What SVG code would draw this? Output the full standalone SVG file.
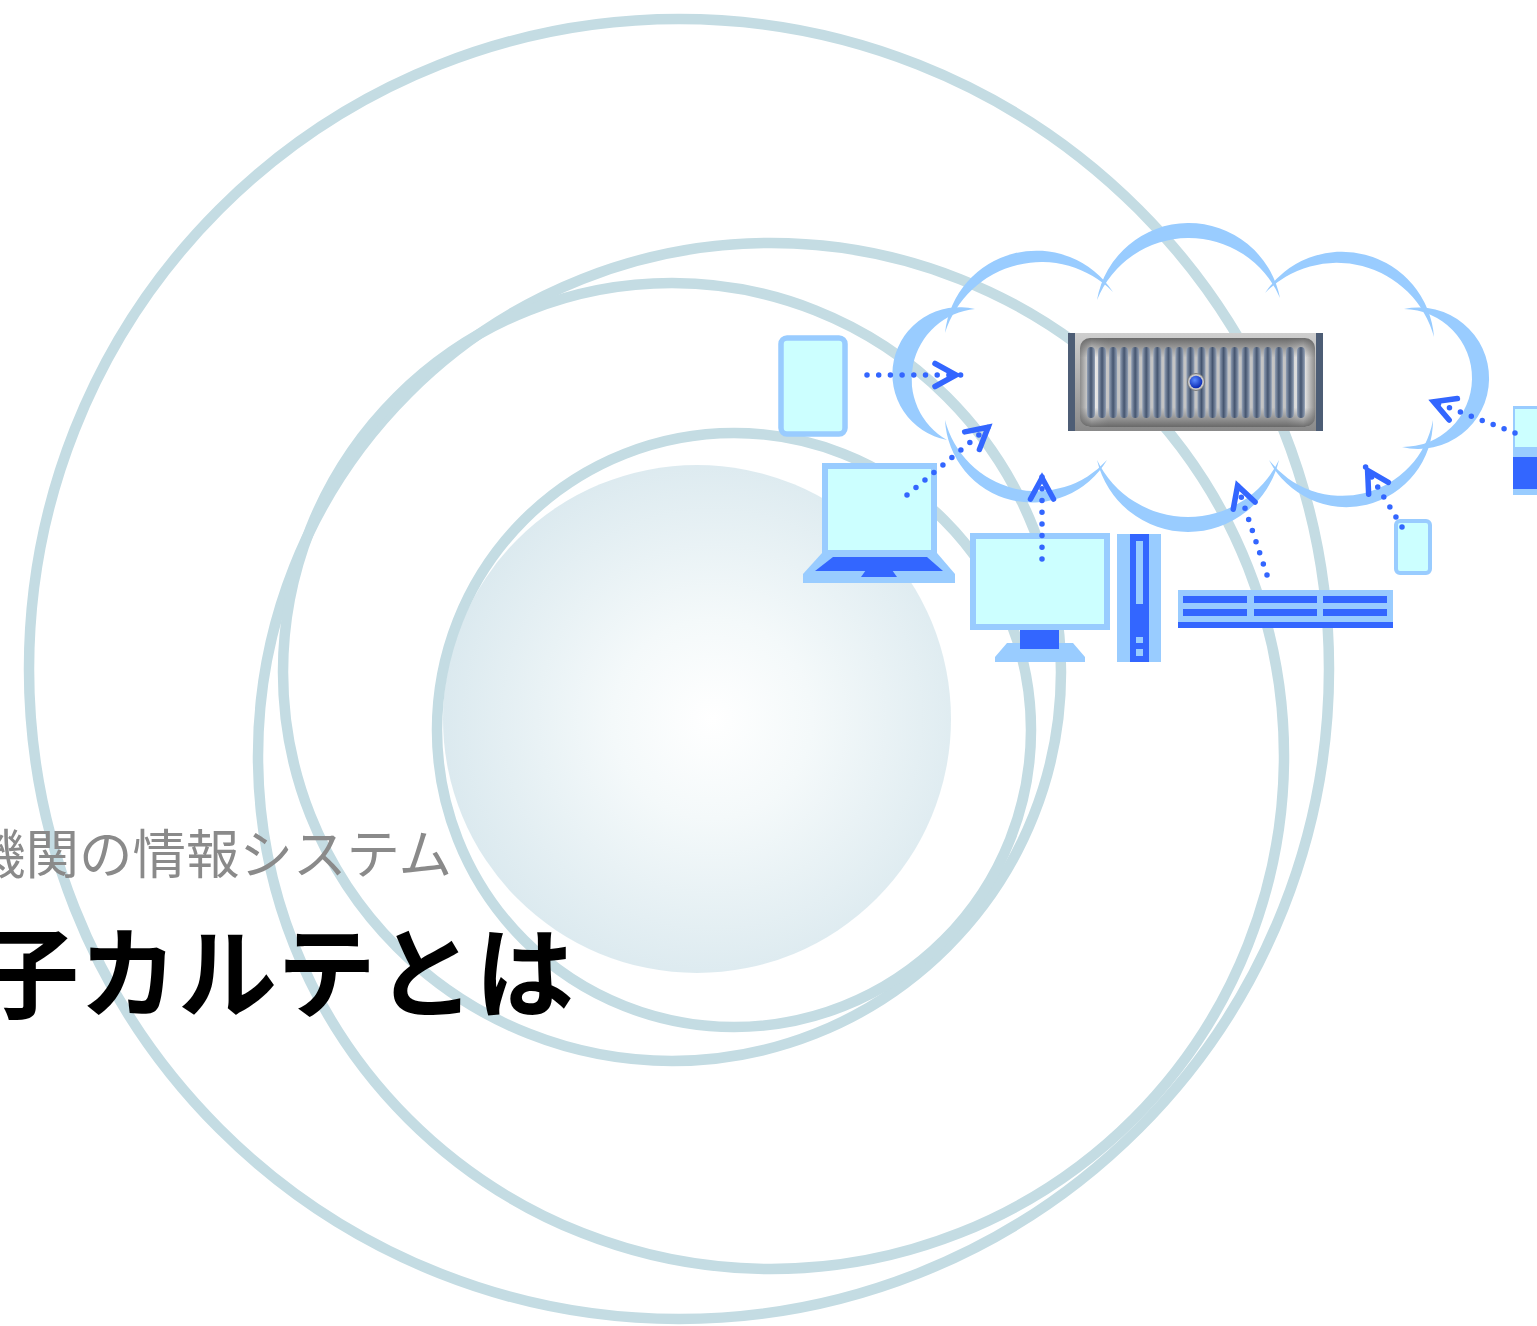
<svg xmlns="http://www.w3.org/2000/svg" xmlns:xlink="http://www.w3.org/1999/xlink" width="1537" height="1326" viewBox="0 0 1537 1326">
  <defs>
    <style>
      .ring { fill: none; stroke: #c4dce3; stroke-width: 10.5; }
      .lobe { fill: #99ccff; }
      .frame { fill: #ccffff; stroke: #99ccff; }
      .light { fill: #99ccff; }
      .dark { fill: #3366ff; }
      .link { fill: none; stroke: #3366ff; stroke-width: 5.5; stroke-linecap: round; stroke-dasharray: 0 11.7; marker-end: url(#chev); }
      .sub { font-family: "Noto Sans CJK JP", "Noto Sans", sans-serif; font-size: 53.5px; fill: #8a8a8a; }
      .title { font-family: "Noto Sans CJK JP", "Noto Sans", sans-serif; font-size: 99px; font-weight: 700; fill: #000000; }
    </style>
    <radialGradient id="coreGrad" cx="0.53" cy="0.5" r="0.56">
      <stop offset="0" stop-color="#ffffff"/>
      <stop offset="0.35" stop-color="#f4f9fa"/>
      <stop offset="1" stop-color="#d9e8ee"/>
    </radialGradient>
    <linearGradient id="caseGrad" x1="0" y1="0" x2="0" y2="1">
      <stop offset="0" stop-color="#cfcfcf"/>
      <stop offset="1" stop-color="#8a8a8a"/>
    </linearGradient>
    <linearGradient id="panelH" x1="0" y1="0" x2="1" y2="0">
      <stop offset="0" stop-color="#8c8c8c"/>
      <stop offset="0.05" stop-color="#f2f2f2"/>
      <stop offset="0.12" stop-color="#c4c4c4"/>
      <stop offset="0.88" stop-color="#c4c4c4"/>
      <stop offset="0.95" stop-color="#f2f2f2"/>
      <stop offset="1" stop-color="#8c8c8c"/>
    </linearGradient>
    <linearGradient id="panelV" x1="0" y1="0" x2="0" y2="1">
      <stop offset="0" stop-color="#5e5e5e" stop-opacity="0.9"/>
      <stop offset="0.22" stop-color="#6e6e6e" stop-opacity="0"/>
      <stop offset="0.78" stop-color="#6e6e6e" stop-opacity="0"/>
      <stop offset="1" stop-color="#5e5e5e" stop-opacity="0.9"/>
    </linearGradient>
    <linearGradient id="ribGrad" x1="0" y1="0" x2="1" y2="0">
      <stop offset="0" stop-color="#93a1b6"/>
      <stop offset="0.5" stop-color="#45556f"/>
      <stop offset="1" stop-color="#93a1b6"/>
    </linearGradient>
    <radialGradient id="ledGrad" cx="0.4" cy="0.35" r="0.6">
      <stop offset="0" stop-color="#5b8cff"/>
      <stop offset="1" stop-color="#0f2fb8"/>
    </radialGradient>
    <rect id="rib" x="0" y="347" width="8" height="71" rx="4" fill="url(#ribGrad)"/>
    <marker id="chev" viewBox="-30 -16 34 32" refX="0" refY="0" markerWidth="34" markerHeight="32" markerUnits="userSpaceOnUse" orient="auto">
      <path d="M-26,-11.5 L-5,0 L-26,11.5" fill="none" stroke="#3366ff" stroke-width="5.5" stroke-linecap="round" stroke-dasharray="none"/>
    </marker>
  </defs>

  <rect width="1537" height="1326" fill="#ffffff"/>

  <!-- background rings and soft core -->
  <g id="rings">
    <circle cx="697" cy="719" r="254" fill="url(#coreGrad)"/>
    <circle class="ring" cx="679" cy="669" r="650"/>
    <circle class="ring" cx="771" cy="756" r="513"/>
    <circle class="ring" cx="672" cy="672" r="389"/>
    <circle class="ring" cx="734" cy="730" r="297"/>
  </g>

  <!-- cloud outline built from crescent lobes -->
  <g id="cloud">
    <path class="lobe" d="M945,333 A91.8,91.8 0 0 1 1113,292 A100.8,100.8 0 0 0 945,333 Z"/>
    <path class="lobe" d="M1097,300 A93.1,93.1 0 0 1 1280,298 A99.1,99.1 0 0 0 1097,300 Z"/>
    <path class="lobe" d="M1265,293 A92.3,92.3 0 0 1 1434,337 A100.6,100.6 0 0 0 1265,293 Z"/>
    <path class="lobe" d="M1404,309 A70.7,70.7 0 1 1 1402,447 A69,69 0 0 0 1404,309 Z"/>
    <path class="lobe" d="M1433,420 A86.8,86.8 0 0 1 1269,460 A92.4,92.4 0 0 0 1433,420 Z"/>
    <path class="lobe" d="M1279,460 A93.5,93.5 0 0 1 1097,460 A101.1,101.1 0 0 0 1279,460 Z"/>
    <path class="lobe" d="M1107,460 A87.2,87.2 0 0 1 945,420 A94.7,94.7 0 0 0 1107,460 Z"/>
    <path class="lobe" d="M947,440 A67,67 0 1 1 975,309 A70.3,70.3 0 0 0 947,440 Z"/>
  </g>

  <!-- server unit -->
  <g id="server">
    <rect x="1068" y="333" width="255" height="98" fill="url(#caseGrad)"/>
    <rect x="1068" y="333" width="7" height="98" fill="#4d5d75"/>
    <rect x="1316" y="333" width="7" height="98" fill="#4d5d75"/>
    <rect x="1080" y="338" width="235" height="89" rx="10" fill="url(#panelH)"/>
    <rect x="1080" y="338" width="235" height="89" rx="10" fill="url(#panelV)"/>
    <use xlink:href="#rib" x="1087"/>
    <use xlink:href="#rib" x="1098.05"/>
    <use xlink:href="#rib" x="1109.1"/>
    <use xlink:href="#rib" x="1120.15"/>
    <use xlink:href="#rib" x="1131.2"/>
    <use xlink:href="#rib" x="1142.25"/>
    <use xlink:href="#rib" x="1153.3"/>
    <use xlink:href="#rib" x="1164.35"/>
    <use xlink:href="#rib" x="1175.4"/>
    <use xlink:href="#rib" x="1186.45"/>
    <use xlink:href="#rib" x="1197.5"/>
    <use xlink:href="#rib" x="1208.55"/>
    <use xlink:href="#rib" x="1219.6"/>
    <use xlink:href="#rib" x="1230.65"/>
    <use xlink:href="#rib" x="1241.7"/>
    <use xlink:href="#rib" x="1252.75"/>
    <use xlink:href="#rib" x="1263.8"/>
    <use xlink:href="#rib" x="1274.85"/>
    <use xlink:href="#rib" x="1285.9"/>
    <use xlink:href="#rib" x="1296.95"/>
    <circle cx="1196" cy="382" r="8.5" fill="#c8c8c8" stroke="#7a7a7a" stroke-width="1"/>
    <circle cx="1196" cy="382" r="6.3" fill="url(#ledGrad)"/>
  </g>

  <!-- tablet -->
  <g id="tablet">
    <rect class="frame" x="781" y="338" width="64" height="96" rx="6" stroke-width="5.5"/>
  </g>

  <!-- laptop -->
  <g id="laptop">
    <rect class="frame" x="825" y="466" width="109" height="87" stroke-width="6"/>
    <polygon class="light" points="822,553 937,553 955,574 955,583 803,583 803,574"/>
    <polygon class="dark" points="833,557 927,557 943,571 815,571"/>
    <polygon class="dark" points="866,570 892,570 897,577 861,577"/>
  </g>

  <!-- desktop monitor -->
  <g id="monitor">
    <rect class="frame" x="973" y="536" width="134" height="91" stroke-width="6"/>
    <polygon class="light" points="1007,643 1073,643 1085,657 1085,662 995,662 995,657"/>
    <rect class="dark" x="1020" y="630" width="39" height="19"/>
  </g>

  <!-- desktop tower -->
  <g id="tower">
    <rect class="light" x="1117" y="534" width="44" height="128"/>
    <rect class="dark" x="1130" y="534" width="19" height="128"/>
    <rect class="light" x="1136" y="541" width="7" height="63"/>
    <rect class="light" x="1136" y="637" width="7" height="6"/>
    <rect class="light" x="1136" y="649" width="7" height="7"/>
  </g>

  <!-- rack unit -->
  <g id="rack">
    <rect class="light" x="1178" y="590" width="215" height="38"/>
    <rect class="dark" x="1183" y="596" width="64" height="7"/>
    <rect class="dark" x="1254" y="596" width="63" height="7"/>
    <rect class="dark" x="1323" y="596" width="64" height="7"/>
    <rect class="dark" x="1183" y="609" width="64" height="7"/>
    <rect class="dark" x="1254" y="609" width="63" height="7"/>
    <rect class="dark" x="1323" y="609" width="64" height="7"/>
    <rect class="dark" x="1178" y="622" width="215" height="6"/>
  </g>

  <!-- handheld -->
  <g id="phone">
    <rect class="frame" x="1396" y="521" width="34" height="52" rx="4" stroke-width="4"/>
  </g>

  <!-- device at the right edge -->
  <g id="edge-device">
    <rect class="light" x="1513" y="406" width="30" height="89"/>
    <rect x="1515" y="409" width="30" height="38" fill="#ccffff"/>
    <rect class="dark" x="1513" y="457" width="30" height="32"/>
  </g>

  <!-- dotted links into the cloud -->
  <g id="connectors">
    <path class="link" d="M867,375 L961,375"/>
    <path class="link" d="M907,495 L992,424"/>
    <path class="link" d="M1042,559 L1042,473"/>
    <path class="link" d="M1267,575 L1236,481"/>
    <path class="link" d="M1402,527 L1365,466"/>
    <path class="link" d="M1515,433 L1429,400"/>
  </g>

  <!-- headings -->
  <g id="headings">
    <text class="sub" x="-28" y="874">機関の情報システム</text>
    <text class="title" x="-20" y="1010">子カルテとは</text>
  </g>
</svg>
